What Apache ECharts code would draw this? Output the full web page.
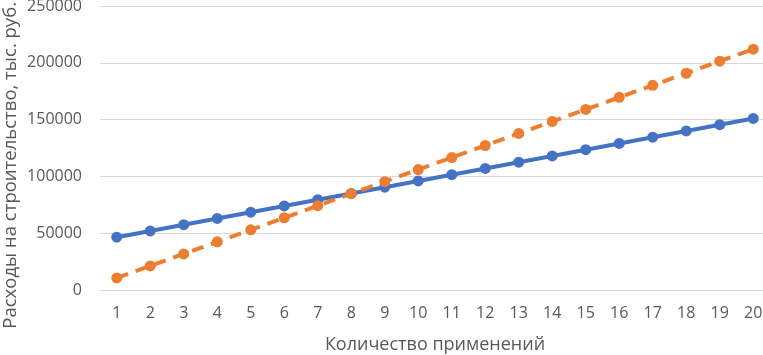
<!DOCTYPE html>
<html>
<head>
<meta charset="utf-8">
<style>
  html, body { margin: 0; padding: 0; background: #fff; }
  #chart { width: 763px; height: 355px; }
</style>
<script src="https://cdn.jsdelivr.net/npm/echarts@6/dist/echarts.min.js"></script>
</head>
<body>
<div id="chart"></div>
<script>
// Расходы на строительство по количеству применений (два варианта)
const categories = ['1', '2', '3', '4', '5', '6', '7', '8', '9', '10',
  '11', '12', '13', '14', '15', '16', '17', '18', '19', '20']
const blueValues = [46500, 52000, 57500, 63000, 68500, 74000, 79500, 85000, 90500, 96000,
  101500, 107000, 112500, 118000, 123500, 129000, 134500, 140000, 145500, 151000]
const orangeValues = [10600, 21200, 31800, 42400, 53000, 63600, 74200, 84800, 95400, 106000,
  116600, 127200, 137800, 148400, 159000, 169600, 180200, 190800, 201400, 212000]
const yTitle = 'Расходы на строительство, тыс. руб.'

const font = 'Open Sans'
const chart = echarts.init(document.getElementById('chart'))

chart.setOption({
  animation: false,
  textStyle: { fontFamily: font },
  grid: { left: 100, right: -7, top: 6, bottom: 65, containLabel: false, outerBoundsMode: 'none' },
  // подпись оси Y сдвинута ниже центра области построения, как в оригинале
  graphic: [{
    type: 'text',
    left: 1,
    top: 2,
    rotation: Math.PI / 2,
    style: {
      text: yTitle,
      fontSize: 18.5,
      fontFamily: font,
      fill: '#595959'
    }
  }],
  xAxis: {
    type: 'category',
    data: categories,
    boundaryGap: true,
    name: 'Количество применений',
    nameLocation: 'middle',
    nameGap: 46,
    nameTextStyle: { fontSize: 18, color: '#595959', fontFamily: font },
    axisLine: { lineStyle: { color: '#d9d9d9', width: 1 } },
    axisTick: { show: false },
    axisLabel: { fontSize: 16, color: '#595959', margin: 15, fontFamily: font }
  },
  yAxis: {
    type: 'value',
    min: 0,
    max: 250000,
    interval: 50000,
    axisLine: { show: false },
    axisTick: { show: false },
    axisLabel: { fontSize: 16, color: '#595959', margin: 18, fontFamily: font, formatter: (v) => String(v) },
    splitLine: { lineStyle: { color: '#d9d9d9', width: 1 } }
  },
  series: [
    {
      name: 'blue',
      type: 'line',
      data: blueValues,
      symbol: 'circle',
      symbolSize: 11,
      lineStyle: { color: '#4472c4', width: 4 },
      itemStyle: { color: '#4472c4' },
      z: 2
    },
    {
      name: 'orange',
      type: 'line',
      data: orangeValues,
      symbol: 'circle',
      symbolSize: 11,
      lineStyle: { color: '#ed7d31', width: 4, type: [12, 8] },
      itemStyle: { color: '#ed7d31' },
      z: 3
    }
  ]
})
</script>
</body>
</html>
